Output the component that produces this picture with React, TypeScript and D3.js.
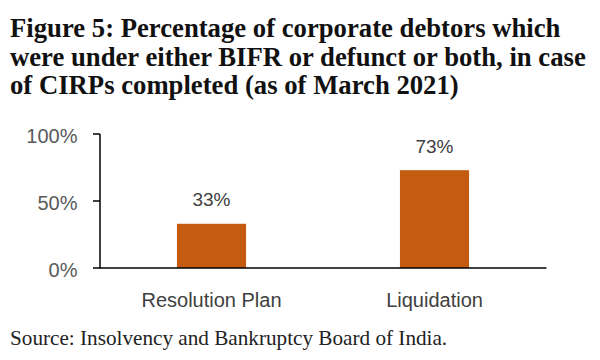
import React from "react";
import * as d3 from "d3";

const titleLines = [
  "Figure 5: Percentage of corporate debtors which",
  "were under either BIFR or defunct or both, in case",
  "of CIRPs completed (as of March 2021)",
];
const categories = ["Resolution Plan", "Liquidation"];
const values = [33, 73];
const yTicks = [0, 50, 100];
const sourceText = "Source: Insolvency and Bankruptcy Board of India.";

const W = 600;
const H = 360;

export default function App() {
  const x = d3.scaleBand<string>().domain(categories).range([100, 546]).paddingInner(0.69).paddingOuter(0.345);
  const y = d3.scaleLinear().domain([0, 100]).range([268, 134]);
  const barColor = "#C55A11";
  const sans = "'Liberation Sans', Arial, sans-serif";
  const serif = "'Liberation Serif', 'Times New Roman', serif";
  return (
    <svg width={W} height={H} style={{ position: "absolute", left: 0, top: 0, background: "#fff" }}>
      <rect width={W} height={H} fill="#fff" />
      {titleLines.map((t, i) => (
        <text key={i} x={10} y={37.3 + i * 28.5} fontFamily={serif} fontWeight="bold" fontSize={26.7} fill="#111">
          {t}
        </text>
      ))}
      {categories.map((c, i) => (
        <rect key={c} x={x(c)} y={y(values[i])} width={x.bandwidth()} height={y(0) - y(values[i])} fill={barColor} />
      ))}
      {categories.map((c, i) => (
        <text key={c} x={(x(c) as number) + x.bandwidth() / 2} y={y(values[i]) - 17.5} textAnchor="middle" fontFamily={sans} fontSize={19} fill="#404040">
          {values[i]}%
        </text>
      ))}
      <line x1={100} x2={100} y1={y(100)} y2={y(0)} stroke="#000" strokeWidth={1.5} />
      <line x1={99.25} x2={546.5} y1={y(0)} y2={y(0)} stroke="#000" strokeWidth={1.5} />
      {yTicks.map((t) => (
        <g key={t}>
          <line x1={93} x2={100} y1={y(t)} y2={y(t)} stroke="#000" strokeWidth={1.5} />
          <text x={77.5} y={y(t) + 8.5} textAnchor="end" fontFamily={sans} fontSize={20} fill="#595959">
            {t}%
          </text>
        </g>
      ))}
      {categories.map((c) => (
        <text key={c} x={(x(c) as number) + x.bandwidth() / 2} y={306.5} textAnchor="middle" fontFamily={sans} fontSize={20} fill="#404040">
          {c}
        </text>
      ))}
      <text x={10} y={345} fontFamily={serif} fontSize={21.2} fill="#222">
        {sourceText}
      </text>
    </svg>
  );
}
